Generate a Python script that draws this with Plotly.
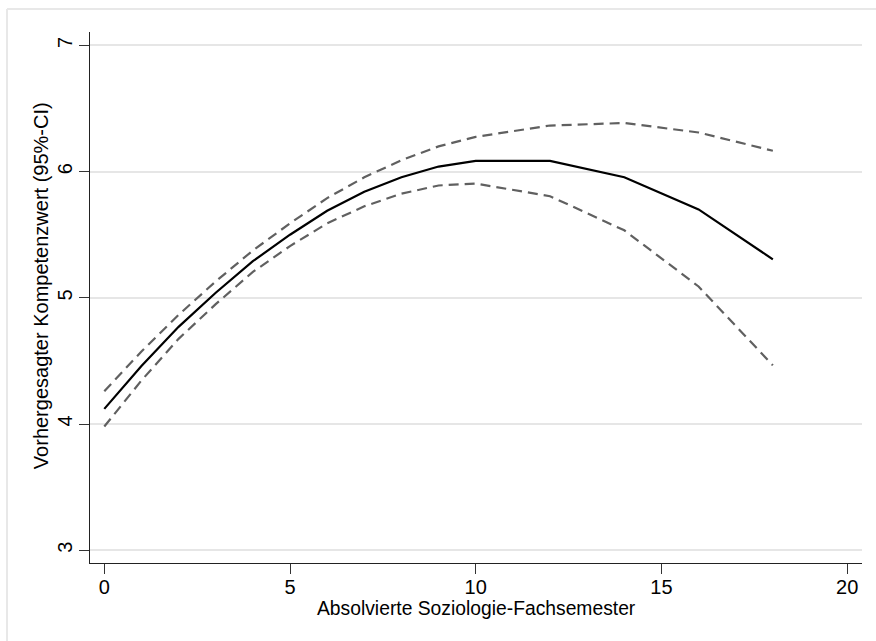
import plotly.graph_objects as go

# Data
semester = [0, 1, 2, 3, 4, 5, 6, 7, 8, 9, 10, 12, 14, 16, 18]
predicted = [4.12, 4.46, 4.77, 5.04, 5.29, 5.50, 5.69, 5.84, 5.955, 6.04, 6.085, 6.085, 5.955, 5.70, 5.305]
ci_upper = [4.26, 4.575, 4.865, 5.13, 5.375, 5.59, 5.79, 5.955, 6.09, 6.20, 6.275, 6.365, 6.385, 6.31, 6.165]
ci_lower = [3.98, 4.345, 4.675, 4.95, 5.205, 5.41, 5.59, 5.725, 5.825, 5.89, 5.905, 5.805, 5.535, 5.09, 4.465]

x_ticks = [0, 5, 10, 15, 20]
y_ticks = [3, 4, 5, 6, 7]

FONT = "Liberation Sans, Arial, sans-serif"

fig = go.Figure()
fig.add_trace(go.Scatter(x=semester, y=ci_upper, mode="lines",
                         line=dict(color="#606060", width=2.2, dash="10px,6px"),
                         showlegend=False, hoverinfo="skip"))
fig.add_trace(go.Scatter(x=semester, y=ci_lower, mode="lines",
                         line=dict(color="#606060", width=2.2, dash="10px,6px"),
                         showlegend=False, hoverinfo="skip"))
fig.add_trace(go.Scatter(x=semester, y=predicted, mode="lines",
                         line=dict(color="black", width=2.2),
                         showlegend=False))

fig.update_layout(
    width=876, height=641,
    margin=dict(l=90, r=14, t=32, b=78, pad=0),
    paper_bgcolor="white", plot_bgcolor="white",
    font=dict(family=FONT, color="black", size=20),
    xaxis=dict(range=[-0.385, 20.4], tickvals=x_ticks, ticks="outside", ticklen=10,
               tickwidth=1.2, tickcolor="#333", showline=True, linecolor="#222",
               linewidth=1.3, showgrid=False, zeroline=False,
               tickfont=dict(size=20), ticklabelstandoff=-4),
    yaxis=dict(range=[2.899, 7.106], tickvals=y_ticks, ticks="outside", ticklen=10,
               tickwidth=1.2, tickcolor="#333", showline=True, linecolor="#222",
               linewidth=1.3, showgrid=True, gridcolor="#e6e6e6", gridwidth=1.6,
               zeroline=False, tickangle=-90, tickfont=dict(size=20),
               ticklabelstandoff=-1),
    shapes=[
        dict(type="line", xref="paper", yref="paper", x0=-0.1075, x1=1.03,
             y0=1.0433, y1=1.0433, line=dict(color="#e8e8e8", width=2)),
        dict(type="line", xref="paper", yref="paper", x0=-0.1075, x1=-0.1075,
             y0=1.0433, y1=-0.16, line=dict(color="#e8e8e8", width=2)),
    ],
    annotations=[
        dict(text="Absolvierte Soziologie-Fachsemester", xref="paper", yref="paper",
             x=0.5, y=(562.7 - 608) / 530.7, xanchor="center", yanchor="middle",
             showarrow=False, font=dict(size=19.3, family=FONT)),
        dict(text="Vorhergesagter Kompetenzwert (95%-CI)", xref="paper", yref="paper",
             x=(41 - 90) / 772, y=(562.7 - 286) / 530.7, xanchor="center", yanchor="middle",
             textangle=-90, showarrow=False, font=dict(size=20, family=FONT)),
    ],
)

fig.write_html("out.html")
